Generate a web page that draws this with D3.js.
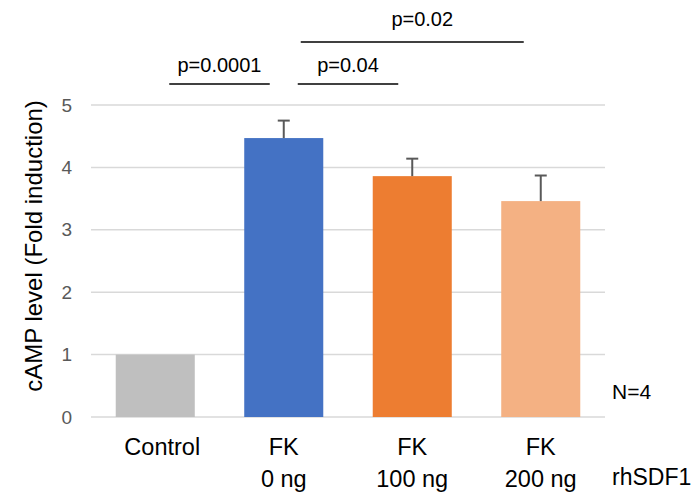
<!DOCTYPE html>
<html><head><meta charset="utf-8">
<script src="https://cdn.jsdelivr.net/npm/d3@7"></script>
<style>body{margin:0;background:#fff}svg{display:block}text{font-family:"Liberation Sans",Arial,sans-serif}</style>
</head><body><div id="chart"></div>
<script>
const categories = ["Control", "FK0", "FK100", "FK200"];
const labelLine1 = ["Control", "FK", "FK", "FK"];
const labelLine2 = ["", "0 ng", "100 ng", "200 ng"];
const values = [1.0, 4.47, 3.86, 3.46];
const errors = [0, 0.28, 0.28, 0.41];
const colors = ["#BFBFBF", "#4472C4", "#ED7D31", "#F4B183"];
const yTicks = [0, 1, 2, 3, 4, 5];
const comparisons = [
  {from: "Control", to: "FK0", label: "p=0.0001", level: 0},
  {from: "FK0", to: "FK100", label: "p=0.04", level: 0},
  {from: "FK0", to: "FK200", label: "p=0.02", level: 1}
];

const W = 700, H = 495;
const svg = d3.select("#chart").append("svg").attr("width", W).attr("height", H);
const x = d3.scaleBand().domain(categories).range([91, 605]).paddingInner(0.385).paddingOuter(0.1925);
const y = d3.scaleLinear().domain([0, 5]).range([417, 105]);

// gridlines
svg.append("g").selectAll("line").data(yTicks).join("line")
  .attr("x1", 91).attr("x2", 605)
  .attr("y1", d => y(d)).attr("y2", d => y(d))
  .attr("stroke", "#D9D9D9").attr("stroke-width", 1.5);

// y axis tick labels
const yAxis = d3.axisLeft(y).tickValues(yTicks).tickFormat(d3.format("d")).tickSize(0).tickPadding(0);
const ga = svg.append("g").attr("transform", "translate(72,0)").call(yAxis);
ga.select(".domain").remove();
ga.selectAll("text").attr("font-size", 19).attr("fill", "#595959")
  .attr("font-family", "'Liberation Sans', Arial, sans-serif");

// bars
svg.append("g").selectAll("rect").data(categories).join("rect")
  .attr("x", d => x(d)).attr("width", x.bandwidth())
  .attr("y", (d, i) => y(values[i])).attr("height", (d, i) => y(0) - y(values[i]))
  .attr("fill", (d, i) => colors[i]);

// error bars
const eg = svg.append("g").attr("stroke", "#595959").attr("stroke-width", 2);
categories.forEach((c, i) => {
  if (!errors[i]) return;
  const cx = x(c) + x.bandwidth() / 2;
  eg.append("line").attr("x1", cx).attr("x2", cx).attr("y1", y(values[i])).attr("y2", y(values[i] + errors[i]));
  eg.append("line").attr("x1", cx - 6).attr("x2", cx + 6).attr("y1", y(values[i] + errors[i])).attr("y2", y(values[i] + errors[i]));
});

// category labels
const lg = svg.append("g").attr("font-size", 23.5).attr("fill", "#000").attr("text-anchor", "middle");
categories.forEach((c, i) => {
  const cx = x(c) + x.bandwidth() / 2;
  lg.append("text").attr("x", cx).attr("dx", labelLine2[i] ? 0 : 7).attr("y", 455).text(labelLine1[i]);
  if (labelLine2[i]) lg.append("text").attr("x", cx).attr("y", 487).text(labelLine2[i]);
});
svg.append("text").attr("x", 612).attr("y", 485).attr("font-size", 23).text("rhSDF1");
svg.append("text").attr("x", 612).attr("y", 399).attr("font-size", 21).text("N=4");

// y title
svg.append("text").attr("transform", "translate(42,246) rotate(-90)")
  .attr("text-anchor", "middle").attr("font-size", 24).text("cAMP level (Fold induction)");

// significance brackets
const sigLineY = [84, 42];
const sigTextY = [72, 26];
const sg = svg.append("g");
comparisons.forEach(cmp => {
  const inset = cmp.level ? 17 : 14;
  const x1 = x(cmp.from) + x.bandwidth() / 2 + inset;
  const x2 = x(cmp.to) + x.bandwidth() / 2 - inset;
  sg.append("line").attr("x1", x1).attr("x2", x2)
    .attr("y1", sigLineY[cmp.level]).attr("y2", sigLineY[cmp.level])
    .attr("stroke", "#000").attr("stroke-width", 1.5);
  sg.append("text").attr("x", (x1 + x2) / 2 + (cmp.level ? 10 : 0)).attr("y", sigTextY[cmp.level])
    .attr("text-anchor", "middle").attr("font-size", 20).text(cmp.label);
});
</script></body></html>
